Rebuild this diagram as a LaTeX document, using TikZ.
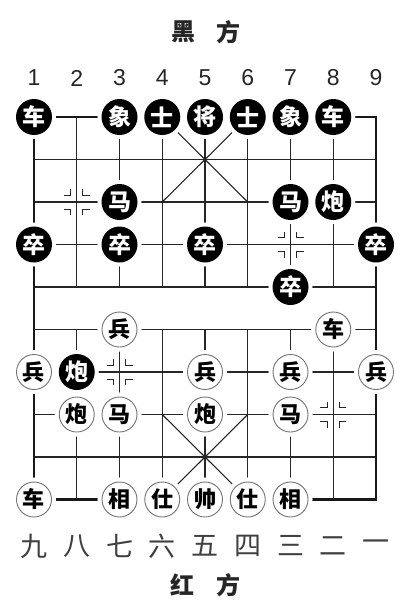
\documentclass[tikz,border=0pt]{standalone}
\usepackage{fontspec}
\setmainfont{Liberation Sans}
\newfontfamily\cjk{Noto Sans CJK SC}
\tikzset{
  gridline/.style={line width=1.1pt, black!85},
  border/.style={line width=2.2pt, black!90},
  bp/.style={circle, fill=black, text=white, minimum size=36pt, inner sep=0pt,
    preaction={draw=white, line width=8pt},
    font=\cjk\bfseries\fontsize{23}{23}\selectfont},
  rp/.style={circle, fill=white, draw=black!55, line width=0.9pt, text=black,
    minimum size=35pt, inner sep=0pt,
    preaction={draw=white, line width=9pt},
    font=\cjk\bfseries\fontsize{22}{22}\selectfont},
  numlab/.style={font=\fontsize{23}{23}\selectfont, text=black!85},
  cnlab/.style={font=\cjk\fontsize{27}{27}\selectfont, text=black!75},
  title/.style={font=\cjk\bfseries\fontsize{24}{24}\selectfont, text=black!85},
  marker/.pic={
    \foreach \sx in {-1,1} \foreach \sy in {-1,1}
      \draw[line width=1pt, black!85] (\sx*13,\sy*7) -- (\sx*6,\sy*7) -- (\sx*6,\sy*13);
  }
}
\begin{document}
\begin{tikzpicture}[x=1pt,y=-1pt]
\useasboundingbox[fill=white] (0,0) rectangle (413,610);
% grid points
\foreach \c in {1,...,9}
  \foreach \r in {0,...,9}
    \coordinate (p\c-\r) at ({34+42.75*(\c-1)},{117+42.5*\r});
% horizontal inner lines
\foreach \r in {1,...,8}
  \draw[gridline] (p1-\r) -- (p9-\r);
% vertical inner lines
\foreach \c in {2,...,8} {
  \draw[gridline] (p\c-0) -- (p\c-4);
  \draw[gridline] (p\c-5) -- (p\c-9);
}
% palaces
\draw[gridline] (p4-0) -- (p6-2);
\draw[gridline] (p6-0) -- (p4-2);
\draw[gridline] (p4-7) -- (p6-9);
\draw[gridline] (p6-7) -- (p4-9);
% border
\draw[border] (p1-0) rectangle (p9-9);
% position markers
\pic at (p2-2) {marker};
\pic at (p7-3) {marker};
\pic at (p3-6) {marker};
\pic at (p8-7) {marker};
% black pieces
\node[bp] (bR1) at (p1-0) {车};
\node[bp] (bE1) at (p3-0) {象};
\node[bp] (bA1) at (p4-0) {士};
\node[bp] (bK)  at (p5-0) {将};
\node[bp] (bA2) at (p6-0) {士};
\node[bp] (bE2) at (p7-0) {象};
\node[bp] (bR2) at (p8-0) {车};
\node[bp] (bH1) at (p3-2) {马};
\node[bp] (bH2) at (p7-2) {马};
\node[bp] (bC2) at (p8-2) {炮};
\node[bp] (bP1) at (p1-3) {卒};
\node[bp] (bP2) at (p3-3) {卒};
\node[bp] (bP3) at (p5-3) {卒};
\node[bp] (bP5) at (p9-3) {卒};
\node[bp] (bP4) at (p7-4) {卒};
\node[bp] (bC1) at (p2-6) {炮};
% red pieces
\node[rp] (rP1) at (p3-5) {兵};
\node[rp] (rR2) at (p8-5) {车};
\node[rp] (rP0) at (p1-6) {兵};
\node[rp] (rP3) at (p5-6) {兵};
\node[rp] (rP4) at (p7-6) {兵};
\node[rp] (rP5) at (p9-6) {兵};
\node[rp] (rC1) at (p2-7) {炮};
\node[rp] (rH1) at (p3-7) {马};
\node[rp] (rC2) at (p5-7) {炮};
\node[rp] (rH2) at (p7-7) {马};
\node[rp] (rR1) at (p1-9) {车};
\node[rp] (rE1) at (p3-9) {相};
\node[rp] (rA1) at (p4-9) {仕};
\node[rp] (rK)  at (p5-9) {帅};
\node[rp] (rA2) at (p6-9) {仕};
\node[rp] (rE2) at (p7-9) {相};
% column numbers
\foreach \c in {1,...,9}
  \node[numlab] (n\c) at ({34+42.75*(\c-1)},78) {\c};
\foreach \c/\t in {1/九,2/八,3/七,4/六,5/五,6/四,7/三,8/二,9/一}
  \node[cnlab] (m\c) at ({34+42.75*(\c-1)},546) {\t};
% titles
\node[title] (tb1) at (183,32) {黑};
\node[title] (tb2) at (228,32) {方};
\node[title] (tr1) at (182,585) {红};
\node[title] (tr2) at (228,585) {方};
\end{tikzpicture}
\end{document}
